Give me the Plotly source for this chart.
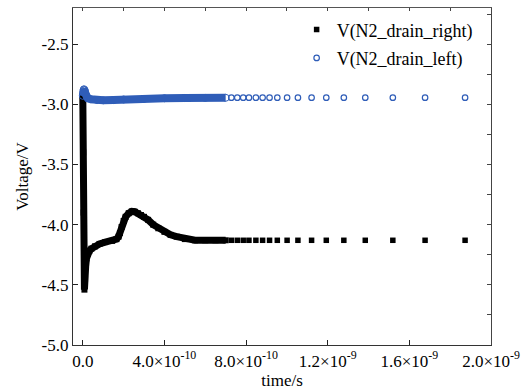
import plotly.graph_objects as go

# time values in units of 1e-10 s
SCALE = 1e-10

# V(N2_drain_right): densely sampled part (markers merge into a thick band)
t_right_dense = [0.0, 0.02, 0.04, 0.06, 0.08, 0.11, 0.14, 0.18, 0.24, 0.32, 0.42, 0.6, 0.82, 1.1, 1.44,
                 1.65, 1.75, 1.82, 1.9, 2.0, 2.1, 2.25, 2.4, 2.55, 2.7, 2.85, 3.0, 3.2, 3.45, 3.7,
                 4.0, 4.3, 4.6, 5.0, 5.5, 6.0, 6.5, 7.0]
v_right_dense = [-2.93, -3.4, -3.9, -4.4, -4.54, -4.45, -4.35, -4.28, -4.24, -4.22, -4.20, -4.18, -4.16, -4.145, -4.135,
                 -4.12, -4.10, -4.07, -4.02, -3.97, -3.935, -3.905, -3.89, -3.893, -3.905, -3.92, -3.935, -3.96, -4.0, -4.03,
                 -4.06, -4.085, -4.10, -4.12, -4.13, -4.13, -4.13, -4.13]

# V(N2_drain_left): densely sampled part
t_left_dense = [0.0, 0.02, 0.04, 0.06, 0.09, 0.13, 0.18, 0.25, 0.4, 0.7, 1.0, 1.5, 2.0, 3.0, 4.0, 5.0, 6.0, 7.0]
v_left_dense = [-2.93, -2.90, -2.88, -2.875, -2.885, -2.91, -2.935, -2.95, -2.958, -2.965, -2.967, -2.965,
                -2.96, -2.955, -2.95, -2.948, -2.947, -2.946]

# sparse tail (same simulation time steps for both nodes)
t_tail = [7.28, 7.57, 7.86, 8.14, 8.48, 8.81, 9.15, 9.53, 10.01, 10.54, 11.21, 11.93, 12.79, 13.84, 15.19, 16.77, 18.73]
v_right_tail = [-4.13] * len(t_tail)
v_left_tail = [-2.945] * len(t_tail)

x_tickvals = [0.0, 4e-10, 8e-10, 1.2e-9, 1.6e-9, 2.0e-9]
x_ticktext = ["0.0", "4.0×10<sup>-10</sup>", "8.0×10<sup>-10</sup>", "1.2×10<sup>-9</sup>",
              "1.6×10<sup>-9</sup>", "2.0×10<sup>-9</sup>"]
y_tickvals = [-5.0, -4.5, -4.0, -3.5, -3.0, -2.5]
y_ticktext = ["-5.0", "-4.5", "-4.0", "-3.5", "-3.0", "-2.5"]

BLACK = "#000000"
BLUE = "#2f5db8"
FONT = "\"Liberation Serif\", \"DejaVu Serif\", serif"

fig = go.Figure()

# right (black squares)
fig.add_trace(go.Scatter(x=[t * SCALE for t in t_right_dense], y=v_right_dense, mode="lines+markers",
                         line=dict(color=BLACK, width=7), marker=dict(symbol="square", size=6, color=BLACK),
                         showlegend=False, legendgroup="r", hoverinfo="skip"))
fig.add_trace(go.Scatter(x=[t * SCALE for t in t_tail], y=v_right_tail, mode="markers",
                         marker=dict(symbol="square", size=5.5, color=BLACK),
                         name="V(N2_drain_right)", legendgroup="r"))
# left (blue open circles)
fig.add_trace(go.Scatter(x=[t * SCALE for t in t_left_dense], y=v_left_dense, mode="lines+markers",
                         line=dict(color=BLUE, width=8), marker=dict(symbol="circle-open", size=7, color=BLUE),
                         showlegend=False, legendgroup="l", hoverinfo="skip"))
fig.add_trace(go.Scatter(x=[t * SCALE for t in t_tail], y=v_left_tail, mode="markers",
                         marker=dict(symbol="circle-open", size=5.5, color=BLUE, line=dict(width=1.2)),
                         name="V(N2_drain_left)", legendgroup="l"))

# dummy trace for top/right axes
fig.add_trace(go.Scatter(x=[None], y=[None], xaxis="x2", yaxis="y2", showlegend=False, hoverinfo="skip"))

XR = [-0.48e-10, 2.0e-9]
YR = [-5.0, -2.2]

fig.update_layout(
    width=528, height=392,
    margin=dict(l=73, r=29, t=8, b=47),
    paper_bgcolor="white", plot_bgcolor="white",
    font=dict(family=FONT, size=17, color="black"),
    xaxis=dict(range=XR, tickvals=x_tickvals, ticktext=x_ticktext, ticks="inside", ticklen=5,
               tickcolor="#222", showline=True, linecolor="#333", linewidth=1.3, showgrid=False,
               zeroline=False, title=dict(text="time/s", standoff=2, font=dict(size=17)),
               tickfont=dict(size=17), ticklabeloverflow="allow"),
    yaxis=dict(range=YR, tickvals=y_tickvals, ticktext=y_ticktext, ticks="inside", ticklen=5,
               tickcolor="#222", showline=True, linecolor="#333", linewidth=1.3, showgrid=False,
               zeroline=False, title=dict(text="Voltage/V", standoff=8, font=dict(size=17)),
               tickfont=dict(size=17)),
    xaxis2=dict(range=XR, overlaying="x", side="top", tick0=0, dtick=2e-10, ticks="inside", ticklen=3,
                tickcolor="#444", showticklabels=False, showline=True, linecolor="#555", linewidth=1.3,
                showgrid=False, zeroline=False),
    yaxis2=dict(range=YR, overlaying="y", side="right", tick0=-5, dtick=0.25, ticks="inside", ticklen=4,
                tickcolor="#444", showticklabels=False, showline=True, linecolor="#444", linewidth=1.3,
                showgrid=False, zeroline=False),
    legend=dict(x=0.535, y=0.99, xanchor="left", yanchor="top", bgcolor="rgba(0,0,0,0)",
                font=dict(size=18), traceorder="grouped", tracegroupgap=2),
)

fig.write_html("out.html")
